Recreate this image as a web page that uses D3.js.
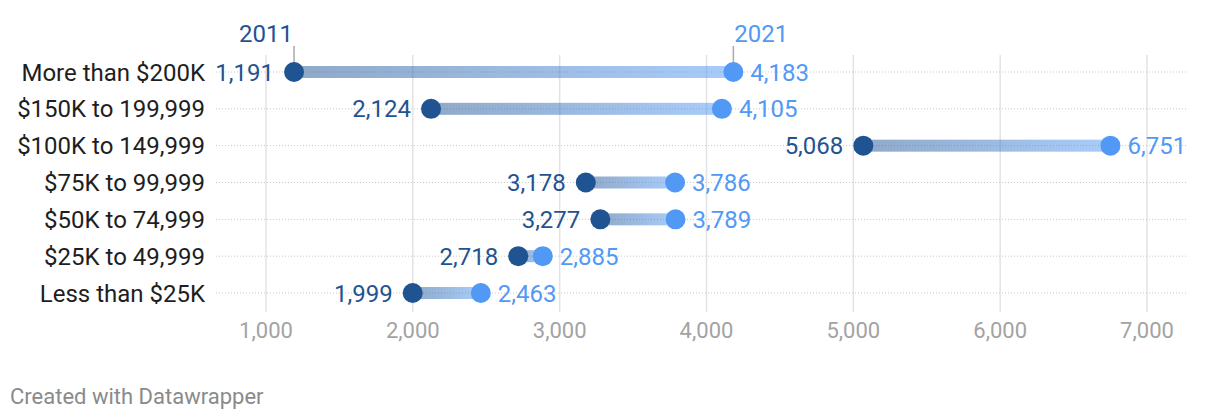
<!DOCTYPE html>
<html><head><meta charset="utf-8">
<script src="https://cdn.jsdelivr.net/npm/d3@7"></script>
<style>
body{margin:0;background:#fff;font-family:Roboto,"Noto Sans",sans-serif;}
</style></head><body>
<svg id="c" width="1220" height="420"></svg>
<script>
const categories = ["More than $200K","$150K to 199,999","$100K to 149,999","$75K to 99,999","$50K to 74,999","$25K to 49,999","Less than $25K"];
const values2011 = [1191,2124,5068,3178,3277,2718,1999];
const values2021 = [4183,4105,6751,3786,3789,2885,2463];
const seriesNames = ["2011","2021"];
const tickValues = [1000,2000,3000,4000,5000,6000,7000];
const footer = "Created with Datawrapper";

const dark = "#1f5391", light = "#5199f5";
const svg = d3.select("#c");
const x = d3.scaleLinear().domain([1000,7000]).range([266,1147]);
const y = d3.scalePoint().domain(categories).range([72,293]);
const fmt = d3.format(",");

const defs = svg.append("defs");
const g = defs.append("linearGradient").attr("id","grad").attr("x1","0%").attr("x2","100%");
g.append("stop").attr("offset","0%").attr("stop-color","#1f5391").attr("stop-opacity",0.5);
g.append("stop").attr("offset","100%").attr("stop-color","#5199f5").attr("stop-opacity",0.5);

// vertical grid
svg.append("g").selectAll("line").data(tickValues).join("line")
  .attr("x1",d=>x(d)).attr("x2",d=>x(d)).attr("y1",55).attr("y2",312)
  .attr("stroke","#e3e3e3").attr("stroke-width",1.5);
// row dotted lines
svg.append("g").selectAll("line").data(categories).join("line")
  .attr("x1",216).attr("x2",1186).attr("y1",d=>y(d)).attr("y2",d=>y(d))
  .attr("stroke","#c8c8c8").attr("stroke-width",1).attr("stroke-dasharray","1,2");
// axis labels
svg.append("g").selectAll("text").data(tickValues).join("text")
  .attr("x",d=>x(d)).attr("y",338).attr("text-anchor","middle")
  .attr("fill","#a3a3a3").attr("font-size",22).text(d=>fmt(d));
// row labels
svg.append("g").selectAll("text").data(categories).join("text")
  .attr("x",205).attr("y",d=>y(d)+8.5).attr("text-anchor","end")
  .attr("fill","#1e1e1e").attr("font-size",24).text(d=>d);

const rows = categories.map((c,i)=>({c,a:values2011[i],b:values2021[i]}));
// bars
svg.append("g").selectAll("rect").data(rows).join("rect")
  .attr("x",d=>x(d.a)).attr("width",d=>x(d.b)-x(d.a))
  .attr("y",d=>y(d.c)-6).attr("height",12).attr("fill","url(#grad)");
// header ticks
svg.append("line").attr("x1",x(values2011[0])).attr("x2",x(values2011[0])).attr("y1",46).attr("y2",63).attr("stroke","#aaa").attr("stroke-width",1.5);
svg.append("line").attr("x1",x(values2021[0])).attr("x2",x(values2021[0])).attr("y1",46).attr("y2",63).attr("stroke","#aaa").attr("stroke-width",1.5);
svg.append("text").attr("x",x(values2011[0])-1).attr("y",42).attr("text-anchor","end").attr("fill",dark).attr("font-size",24).text(seriesNames[0]);
svg.append("text").attr("x",x(values2021[0])+1).attr("y",42).attr("text-anchor","start").attr("fill",light).attr("font-size",24).text(seriesNames[1]);
// dots
svg.append("g").selectAll("circle").data(rows).join("circle")
  .attr("cx",d=>x(d.a)).attr("cy",d=>y(d.c)).attr("r",10).attr("fill",dark);
svg.append("g").selectAll("circle").data(rows).join("circle")
  .attr("cx",d=>x(d.b)).attr("cy",d=>y(d.c)).attr("r",10).attr("fill",light);
// value labels
svg.append("g").selectAll("text").data(rows).join("text")
  .attr("x",d=>x(d.a)-20).attr("y",d=>y(d.c)+8.5).attr("text-anchor","end")
  .attr("fill",dark).attr("font-size",24).text(d=>fmt(d.a));
svg.append("g").selectAll("text").data(rows).join("text")
  .attr("x",d=>x(d.b)+17).attr("y",d=>y(d.c)+8.5).attr("text-anchor","start")
  .attr("fill",light).attr("font-size",24).text(d=>fmt(d.b));
svg.append("text").attr("x",10).attr("y",404).attr("fill","#8a8a8a").attr("font-size",22).text(footer);
</script></body></html>
